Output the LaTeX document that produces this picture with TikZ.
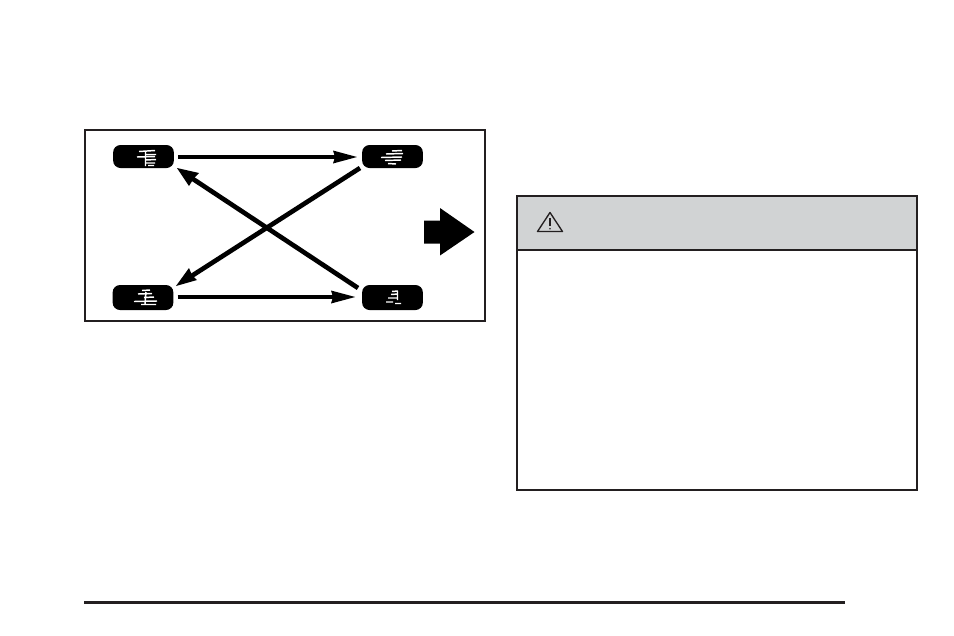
\documentclass[tikz,border=0pt]{standalone}
\definecolor{hdr}{RGB}{209,211,212}
\definecolor{ink}{RGB}{35,31,32}
\tikzset{
  x=0.75pt,y=-0.75pt,
  frame/.style={draw=ink,line width=1.5pt},
  tyre/.style={fill=black,rounded corners=5.5pt,draw=none,inner sep=0pt,minimum width=45.5pt},
  tread/.style={draw=white,line width=1.1pt},
  shaft/.style={draw=black,line width=3.5pt},
  head/.style={fill=black,draw=none},
}
\begin{document}
\begin{tikzpicture}
\useasboundingbox (0,0) rectangle (954,636);
% picture frame
\draw[frame] (85,129.5) rectangle (485,320.5);
% tyres
\node[tyre,minimum height=17.25pt] (tl) at (143.5,156.5) {};
\node[tyre,minimum height=17.25pt] (tr) at (392.5,156.5) {};
\node[tyre,minimum height=18.75pt] (bl) at (143,297.5) {};
\node[tyre,minimum height=18.75pt] (br) at (392.5,297.5) {};
% treads
\draw[tread] (139,151.5)--(155,150.5) (146,154.5)--(156,154.5) (137,157)--(155,156.5) (146,160)--(156,159.5) (145,163)--(155,163) (145.5,151)--(145.5,166) (148,165.5)--(154,165.5);
\draw[tread] (392,151)--(402,150.5) (386,154)--(403,153.5) (381,157.5)--(402,157) (385,160.5)--(401,160) (388,163.5)--(396,164);
\draw[tread] (142,290.5)--(150,290) (138,294)--(152,293.5) (144,297.5)--(154,297) (134,301.5)--(157,301) (141,304.5)--(156,304.5) (146,292)--(145,304);
\draw[tread] (392,291.5)--(398,291) (391,294.5)--(398,294) (388,298)--(398,298) (397.5,291)--(397.5,300) (386,302)--(393,302) (395,303.5)--(401,303.5);
% connector ends
\coordinate (a1) at ([xshift=3.2pt,yshift=-0.375pt]tl.east);
\coordinate (a2) at ([xshift=-3.7pt,yshift=-0.375pt]tr.west);
\coordinate (a3) at (340,157);
\coordinate (b1) at ([xshift=3pt,yshift=0.375pt]bl.east);
\coordinate (b2) at ([xshift=-5pt,yshift=0.375pt]br.west);
\coordinate (b3) at (338,297);
\coordinate (c1) at (360,168);
\coordinate (c2) at (176,286);
\coordinate (c3) at (190,277);
\coordinate (d1) at (358,288);
\coordinate (d2) at (177,168);
\coordinate (d3) at (190,177);
% horizontal arrows
\draw[shaft] (a1)--(a3);
\fill[head] (a2)--(333,150.5)--(335,157)--(333,163.5)--cycle;
\draw[shaft] (b1)--(b3);
\fill[head] (b2)--(331,290.5)--(333,297)--(331,303.5)--cycle;
% diagonals
\draw[shaft] (c1)--(c3);
\fill[head] (c2)--(189,268)--(192,275)--(197,280)--cycle;
\draw[shaft] (d1)--(d3);
\fill[head] (d2)--(199,173)--(194,178)--(189,186)--cycle;
% big arrow
\fill[head] (424,220.5)--(440,220.5)--(440,208)--(474.5,232)--(440,255.5)--(440,243.5)--(424,243.5)--cycle;
% caution box
\fill[hdr] (517,196) rectangle (917,249);
\draw[frame] (517,196) rectangle (917,490);
\draw[draw=ink,line width=1.5pt] (517,249.5)--(917,249.5);
% warning sign
\draw[draw=ink,line width=1pt,line join=round] (550,212.5)--(562.5,231.5)--(537.5,231.5)--cycle;
\draw[draw=ink,line width=1.2pt] (550,218)--(550,226);
\fill[ink] (550,228.8) circle (0.9);
% rule
\draw[draw=ink,line width=2.2pt] (84,602.5)--(845,602.5);
\end{tikzpicture}
\end{document}
